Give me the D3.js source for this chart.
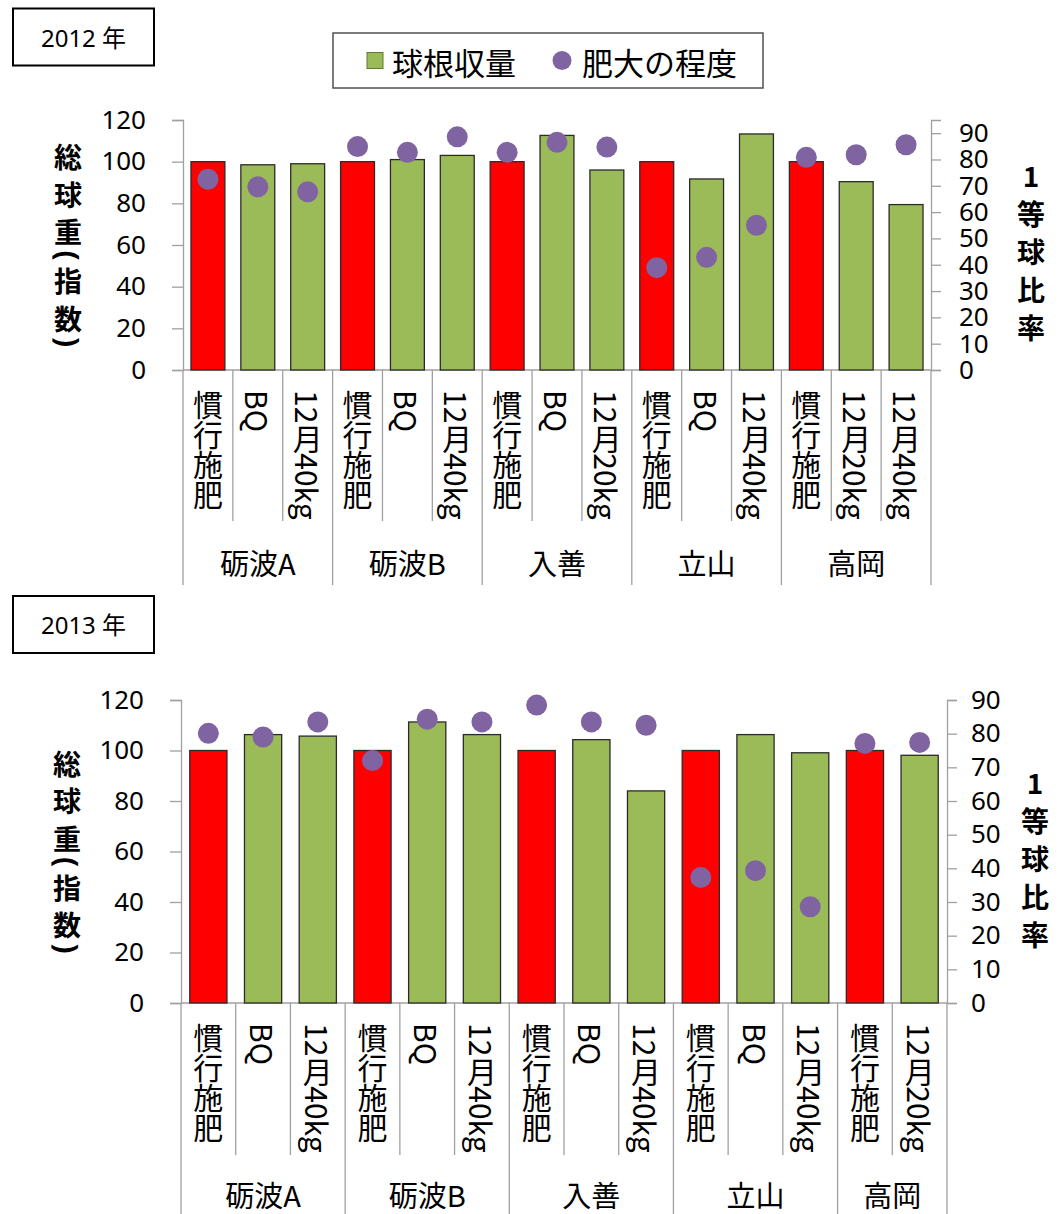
<!DOCTYPE html>
<html>
<head>
<meta charset="utf-8">
<script src="https://cdn.jsdelivr.net/npm/d3@7"></script>
<style>
  body { margin: 0; background: #fff; }
</style>
</head>
<body>
<div id="chart"></div>
<script>
// 2012
const sites2012 = ["砺波A", "砺波B", "入善", "立山", "高岡"];
const siteSizes2012 = [3, 3, 3, 3, 3];
const treatments2012 = ["慣行施肥", "BQ", "12月40kg", "慣行施肥", "BQ", "12月40kg", "慣行施肥", "BQ", "12月20kg",
  "慣行施肥", "BQ", "12月40kg", "慣行施肥", "12月20kg", "12月40kg"];
const yield2012 = [100, 98.5, 99, 100, 101, 103, 100, 112.6, 96, 100, 91.7, 113.3, 100, 90.4, 79.4];
const gradeRate2012 = [72.5, 69.6, 67.7, 84.9, 82.7, 88.6, 82.7, 86.5, 84.7, 38.9, 42.8, 55, 80.8, 81.8, 85.6];

// 2013
const sites2013 = ["砺波A", "砺波B", "入善", "立山", "高岡"];
const siteSizes2013 = [3, 3, 3, 3, 2];
const treatments2013 = ["慣行施肥", "BQ", "12月40kg", "慣行施肥", "BQ", "12月40kg", "慣行施肥", "BQ", "12月40kg",
  "慣行施肥", "BQ", "12月40kg", "慣行施肥", "12月20kg"];
const yield2013 = [100, 106.3, 105.7, 100, 111.3, 106.3, 100, 104.3, 84, 100, 106.3, 99.1, 100, 98.1];
const gradeRate2013 = [80.1, 79, 83.5, 72, 84.3, 83.5, 88.5, 83.5, 82.5, 37.3, 39.3, 28.6, 77.1, 77.4];

const leftTicks = [0, 20, 40, 60, 80, 100, 120];
const rightTicks = [0, 10, 20, 30, 40, 50, 60, 70, 80, 90];
const leftTitle = ["総", "球", "重", "(", "指", "数", ")"];
const rightTitle = ["1", "等", "球", "比", "率"];
const legendLabels = ["球根収量", "肥大の程度"];
const CONTROL = "慣行施肥";

const JP = "'Noto Sans CJK JP', sans-serif";
const NUM = "'Noto Sans', 'Noto Sans CJK JP', sans-serif";
const RED = "#ff0000", GREEN = "#9bbb59", PURPLE = "#8064a2", AXIS = "#a0a0a0";

const svg = d3.select("#chart").append("svg")
  .attr("width", 1063)
  .attr("height", 1214)
  .style("background", "#fff");

function drawPanel(cfg) {
  const n = cfg.treatments.length;
  const x = d3.scaleBand().domain(d3.range(n))
    .range([cfg.left, cfg.right]).paddingInner(0.32).paddingOuter(0.16);
  const yL = d3.scaleLinear().domain([0, 120]).range([cfg.bottom, cfg.top]);
  const yR = d3.scaleLinear().domain([0, cfg.rightMax]).range([cfg.bottom, cfg.top]);
  const g = svg.append("g");

  // year box
  g.append("rect")
    .attr("x", cfg.box.x).attr("y", cfg.box.y)
    .attr("width", cfg.box.w).attr("height", cfg.box.h)
    .attr("fill", "#fff").attr("stroke", "#000").attr("stroke-width", 2);
  g.append("text")
    .attr("x", cfg.box.x + cfg.box.w / 2).attr("y", cfg.box.y + cfg.box.h / 2)
    .attr("text-anchor", "middle").attr("dominant-baseline", "central")
    .style("font-family", NUM).style("font-size", "24px")
    .text(cfg.year);

  // axes
  const axL = d3.axisLeft(yL).tickValues(leftTicks).tickSize(11).tickPadding(26);
  const axR = d3.axisRight(yR).tickValues(rightTicks).tickSize(10).tickPadding(cfg.rightPad);
  [g.append("g").attr("transform", `translate(${cfg.left},0)`).call(axL),
   g.append("g").attr("transform", `translate(${cfg.right},0)`).call(axR)].forEach((a) => {
    a.select(".domain").attr("stroke", AXIS).attr("stroke-width", 1.3);
    a.selectAll(".tick line").attr("stroke", AXIS).attr("stroke-width", 1.3);
    a.selectAll(".tick text").style("font-family", NUM).style("font-size", "26px").attr("fill", "#000");
  });

  // baseline
  g.append("line")
    .attr("x1", cfg.left).attr("x2", cfg.right)
    .attr("y1", cfg.bottom).attr("y2", cfg.bottom)
    .attr("stroke", AXIS).attr("stroke-width", 1.3);

  // category separators
  const starts = [0];
  cfg.siteSizes.forEach((s) => starts.push(starts[starts.length - 1] + s));
  for (let i = 0; i <= n; i++) {
    const xx = cfg.left + i * x.step();
    const isGroup = starts.includes(i);
    g.append("line")
      .attr("x1", xx).attr("x2", xx)
      .attr("y1", cfg.bottom).attr("y2", isGroup ? cfg.groupSepBottom : cfg.subSepBottom)
      .attr("stroke", AXIS).attr("stroke-width", 1.3);
  }

  // bars
  g.selectAll("rect.bar").data(cfg.yields).join("rect")
    .attr("class", "bar")
    .attr("x", (d, i) => x(i))
    .attr("y", (d) => yL(d))
    .attr("width", x.bandwidth())
    .attr("height", (d) => cfg.bottom - yL(d))
    .attr("fill", (d, i) => cfg.treatments[i] === CONTROL ? RED : GREEN)
    .attr("stroke", "#2b2b2b").attr("stroke-width", 1.3);

  // dots
  g.selectAll("circle.dot").data(cfg.rates).join("circle")
    .attr("class", "dot")
    .attr("cx", (d, i) => x(i) + x.bandwidth() / 2)
    .attr("cy", (d) => yR(d))
    .attr("r", 10.5)
    .attr("fill", PURPLE);

  // treatment labels (vertical)
  cfg.treatments.forEach((t, i) => {
    g.append("text")
      .attr("x", x(i) + x.bandwidth() / 2)
      .attr("y", cfg.bottom + 20)
      .style("writing-mode", "vertical-rl")
      .style("text-orientation", "mixed")
      .style("font-family", JP).style("font-size", "30px")
      .text(t);
  });

  // site labels
  cfg.sites.forEach((s, k) => {
    const x0 = cfg.left + starts[k] * x.step();
    const x1 = cfg.left + starts[k + 1] * x.step();
    g.append("text")
      .attr("x", (x0 + x1) / 2).attr("y", cfg.siteY)
      .attr("text-anchor", "middle").attr("dominant-baseline", "central")
      .style("font-family", JP).style("font-size", "29px")
      .text(s);
  });

  // left title, stacked characters
  const mid = (cfg.top + cfg.bottom) / 2;
  const centers = [0];
  for (let i = 1; i < leftTitle.length; i++) {
    const paren = "()".includes(leftTitle[i]) || "()".includes(leftTitle[i - 1]);
    centers.push(centers[i - 1] + (paren ? 24.5 : 37.5));
  }
  const shiftL = mid + 4 - centers[centers.length - 1] / 2;
  leftTitle.forEach((c, i) => {
    const isParen = "()".includes(c);
    g.append("text")
      .attr("transform", `translate(${cfg.leftTitleX},${centers[i] + shiftL})` + (isParen ? " rotate(90)" : ""))
      .attr("text-anchor", "middle").attr("dominant-baseline", "central")
      .style("font-family", isParen ? NUM : JP).style("font-size", isParen ? "30px" : "28px")
      .style("font-weight", "bold")
      .text(c);
  });

  // right title
  rightTitle.forEach((c, i) => {
    g.append("text")
      .attr("x", cfg.rightTitleX)
      .attr("y", mid + 6 + (i - (rightTitle.length - 1) / 2) * 38)
      .attr("text-anchor", "middle").attr("dominant-baseline", "central")
      .style("font-family", JP).style("font-size", "28px").style("font-weight", "bold")
      .text(c);
  });

  // legend
  if (cfg.legend) {
    const L = cfg.legend;
    const lg = g.append("g");
    lg.append("rect")
      .attr("x", L.x).attr("y", L.y).attr("width", L.w).attr("height", L.h)
      .attr("fill", "#fff").attr("stroke", "#505050").attr("stroke-width", 1.5);
    const cy = L.y + L.h / 2;
    lg.append("rect")
      .attr("x", L.x + 34).attr("y", cy - 8).attr("width", 16).attr("height", 16)
      .attr("fill", GREEN).attr("stroke", "#5f7a32").attr("stroke-width", 1);
    lg.append("text")
      .attr("x", L.x + 59).attr("y", cy + 1)
      .attr("dominant-baseline", "central")
      .style("font-family", JP).style("font-size", "31px")
      .text(legendLabels[0]);
    lg.append("circle")
      .attr("cx", L.x + 229).attr("cy", cy)
      .attr("r", 9.5).attr("fill", PURPLE);
    lg.append("text")
      .attr("x", L.x + 249).attr("y", cy + 1)
      .attr("dominant-baseline", "central")
      .style("font-family", JP).style("font-size", "31px")
      .text(legendLabels[1]);
  }
}

drawPanel({
  year: "2012 年",
  box: { x: 13, y: 8.5, w: 141, h: 57 },
  sites: sites2012, siteSizes: siteSizes2012, treatments: treatments2012,
  yields: yield2012, rates: gradeRate2012,
  left: 183, right: 931, top: 120, bottom: 370, rightMax: 95, rightPad: 18,
  subSepBottom: 521, groupSepBottom: 585, siteY: 562,
  leftTitleX: 68, rightTitleX: 1031,
  legend: { x: 333, y: 33, w: 430, h: 55 },
});

drawPanel({
  year: "2013 年",
  box: { x: 13, y: 596, w: 141, h: 57 },
  sites: sites2013, siteSizes: siteSizes2013, treatments: treatments2013,
  yields: yield2013, rates: gradeRate2013,
  left: 181, right: 947, top: 700, bottom: 1003, rightMax: 90, rightPad: 14,
  subSepBottom: 1155, groupSepBottom: 1214, siteY: 1194,
  leftTitleX: 67, rightTitleX: 1035,
});
</script>
</body>
</html>
